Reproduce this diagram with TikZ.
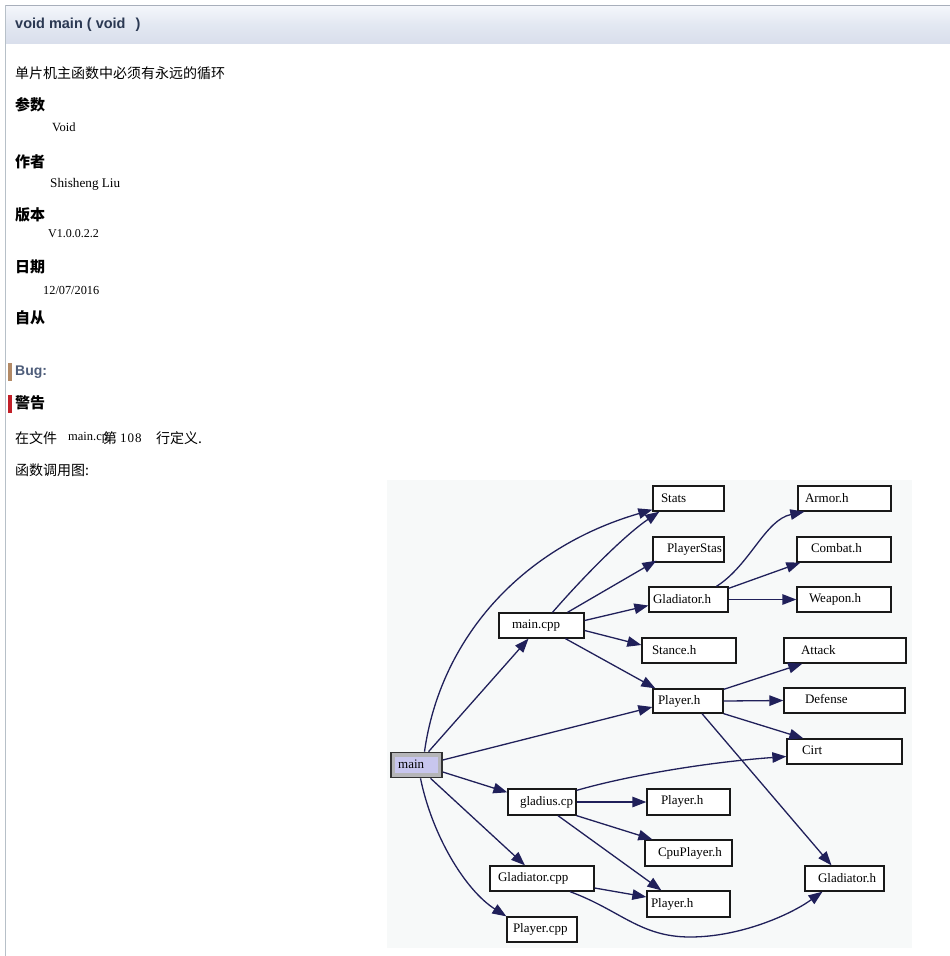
\documentclass[tikz,border=0pt]{standalone}
\usepackage{fontspec}
\setmainfont{Liberation Serif}
\newfontfamily\cjk{Noto Sans CJK SC}
\newfontfamily\titlefont{Liberation Sans}
\usetikzlibrary{arrows.meta,shadows}

\definecolor{edgeblue}{HTML}{20205A}
\definecolor{headtop}{HTML}{F5F7FB}
\definecolor{headmid}{HTML}{E3E8F2}
\definecolor{headbot}{HTML}{D9DFEC}
\definecolor{headline}{HTML}{A8AFBB}
\definecolor{sideline}{HTML}{B7C0C8}
\definecolor{titleblue}{HTML}{2A3852}
\definecolor{bugblue}{HTML}{4E5D7A}
\definecolor{bugtan}{HTML}{B38A66}
\definecolor{warnred}{HTML}{C21F28}
\definecolor{graphbg}{HTML}{F7F9F9}
\definecolor{mainfill}{HTML}{C8C6EE}
\definecolor{mainring}{HTML}{B5B5B8}

\tikzset{
  txt/.style={anchor=west, inner sep=0pt},
  head/.style={txt, font=\cjk\bfseries\fontsize{15}{18}\selectfont},
  body/.style={txt, font=\cjk\fontsize{14}{17}\selectfont},
  val/.style={txt, font=\fontsize{12.5}{15}\selectfont},
  gbox/.style={draw=black!90, line width=1.3pt, fill=white,
    inner xsep=0pt, inner ysep=0pt, align=left,
    font=\fontsize{13}{15}\selectfont,
    drop shadow={shadow xshift=0.6pt, shadow yshift=-0.6pt, fill=black, opacity=0.8}},
  call/.style={draw=edgeblue, line width=1.3pt,
    -{Triangle[length=14pt,width=10.5pt,fill=edgeblue]}},
}
% boxed file node: name, centre, width, height, label indent, label raise, label
\newcommand{\gnode}[7]{%
  \node[gbox, minimum width=#3, minimum height=#4, text width=#3] (#1) at (#2)
    {\hspace*{#5pt}\raisebox{#6pt}{#7}};}

\begin{document}
\begin{tikzpicture}[x=1pt, y=-1pt]
\useasboundingbox (0,0) rectangle (950,956);
\fill[white] (0,0) rectangle (950,956);

% ---- page frame and header band ----
\shade[top color=headtop, bottom color=headbot, middle color=headmid] (5,5) rectangle (950,43);
\draw[headline, line width=1pt] (5,5) -- (950,5);
\draw[sideline, line width=1pt] (5,5) -- (5,956);
\node[txt, text=titleblue, font=\titlefont\bfseries\fontsize{14.5}{17}\selectfont] (title) at (15,25)
  {void main ( void\hspace{10pt})};

% ---- description ----
\node[body] (brief) at (15,73) {单片机主函数中必须有永远的循环};
\node[head] (hparam) at (15,105) {参数};
\node[val] (vparam) at (52,127) {Void};
\node[head] (hauthor) at (15,162) {作者};
\node[val, font=\fontsize{13.2}{15}\selectfont] (vauthor) at (50,184) {Shisheng Liu};
\node[head] (hversion) at (15,215) {版本};
\node[val, font=\fontsize{12}{15}\selectfont] (vversion) at (48,234) {V1.0.0.2.2};
\node[head] (hdate) at (15,267) {日期};
\node[val, font=\fontsize{12.3}{15}\selectfont] (vdate) at (43,290) {12/07/2016};
\node[head] (hsince) at (15,318) {自从};

\fill[bugtan] (8,363) rectangle (12,381);
\node[txt, text=bugblue, font=\titlefont\bfseries\fontsize{14}{17}\selectfont] (bug) at (15,372) {Bug:};
\fill[warnred] (8,395) rectangle (12,413);
\node[head] (warn) at (15,403) {警告};

\node[body] (deffile) at (15,438) {在文件};
\node[val] (deffname) at (68,438) {main.cp};
\node[body] (defdi) at (103,438) {第};
\node[val, font=\fontsize{13}{15}\selectfont] (defline) at (120,438) {1\kern1pt0\kern1pt8};
\node[body] (defrest) at (156,438) {行定义.};
\node[body] (cgraph) at (15,470) {函数调用图:};

% ---- call graph ----
\fill[graphbg] (387,480) rectangle (912,948);

\gnode{stats}{688.5,498.5}{71}{25}{8}{0}{Stats}
\gnode{armor}{844.5,498.5}{93}{25}{7}{2}{Armor.h}
\gnode{pstas}{688.5,549.5}{71}{25}{14}{0}{PlayerStas}
\gnode{combat}{844,549.5}{94}{25}{14}{2.5}{Combat.h}
\gnode{gladh}{688.5,599.5}{79}{25}{4}{0}{Gladiator.h}
\gnode{weapon}{844,599.5}{94}{25}{12}{-1}{Weapon.h}
\gnode{maincpp}{541.5,625.5}{85}{25}{13}{2.5}{main.cpp}
\gnode{stance}{689,650.5}{94}{25}{10}{2}{Stance.h}
\gnode{attack}{845,650.5}{122}{25}{17}{0}{Attack}
\gnode{playerh}{688,701}{70}{24}{5}{0}{Player.h}
\gnode{defense}{844.5,700.5}{121}{25}{21}{2.5}{Defense}
\gnode{cirt}{844.5,751.5}{115}{25}{15}{3.5}{Cirt}
\gnode{gladius}{542,802}{68}{26}{12}{3}{gladius.cp}
\gnode{playerh2}{688.5,802}{83}{26}{14}{4}{Player.h}
\gnode{cpu}{688.5,853}{87}{26}{13}{3}{CpuPlayer.h}
\gnode{gladcpp}{542,878.5}{104}{25}{8}{-3}{Gladiator.cpp}
\gnode{gladh2}{844.5,878.5}{79}{25}{13}{-1.5}{Gladiator.h}
\gnode{playerh3}{688.5,904}{83}{26}{4}{0}{Player.h}
\gnode{playercpp}{542,929.5}{70}{25}{6}{1}{Player.cpp}

% root node: dark frame, grey ring, lavender face
\node[draw=black!80, line width=1.6pt, fill=mainring, minimum width=51, minimum height=25,
  inner sep=0pt] (main) at (416.5,765) {};
\fill[mainfill] ([shift={(5pt,-5pt)}]main.north west) rectangle ([shift={(-5pt,5pt)}]main.south east);
\node[txt, font=\fontsize{13}{15}\selectfont] (mainlabel) at (398,764) {main};

% calls from main
\draw[call] ([xshift=8pt]main.north) .. controls (440,640) and (520,548) .. ([yshift=2pt]stats.south west);
\draw[call] ([xshift=12pt]main.north) -- ([xshift=-13pt]maincpp.south);
\draw[call] ([yshift=5pt]main.east) -- ([yshift=-6pt]playerh.west);
\draw[call] ([yshift=-7pt]main.east) -- ([yshift=-4pt]gladius.north west);
\draw[call] ([xshift=14pt]main.south) -- ([xshift=-17pt]gladcpp.north);
\draw[call] ([xshift=4pt]main.south) .. controls (432,835) and (465,890) .. (playercpp.north west);

% calls from main.cpp
\draw[call] ([xshift=11pt]maincpp.north) .. controls (585,575) and (625,535) .. ([xshift=7pt]stats.south west);
\draw[call] ([xshift=26pt]maincpp.north) -- ([shift={(4pt,2pt)}]pstas.south west);
\draw[call] ([yshift=5pt]maincpp.east) -- ([yshift=-6pt]gladh.west);
\draw[call] ([yshift=-5pt]maincpp.east) -- ([yshift=5.5pt]stance.west);
\draw[call] ([xshift=24pt]maincpp.south) -- ([xshift=3pt]playerh.north west);

% calls from Gladiator.h
\draw[call] ([xshift=28pt]gladh.north) .. controls (750,565) and (765,520) .. ([xshift=7pt]armor.south west);
\draw[call] ([yshift=-2pt]gladh.north east) -- ([xshift=4pt]combat.south west);
\draw[call] (gladh.east) -- (weapon.west);

% calls from Player.h
\draw[call] ([yshift=-1pt]playerh.north east) -- ([xshift=19pt]attack.south west);
\draw[call] (playerh.east) -- (defense.west);
\draw[call] (playerh.south east) -- ([xshift=17pt]cirt.north west);
\draw[call] ([xshift=14pt]playerh.south) -- ([xshift=-13pt]gladh2.north);

% calls from gladius.cp
\draw[call] ([yshift=-2pt]gladius.north east) .. controls (630,775) and (710,762) .. ([yshift=-5pt]cirt.west);
\draw[call] (gladius.east) -- (playerh2.west);
\draw[call] (gladius.south east) -- ([xshift=8pt]cpu.north west);
\draw[call] ([xshift=16pt]gladius.south) -- ([xshift=15pt]playerh3.north west);

% calls from Gladiator.cpp
\draw[call] ([yshift=-9.5pt]gladcpp.east) -- ([yshift=7pt]playerh3.west);
\draw[call] ([xshift=28pt]gladcpp.south) .. controls (620,910) and (640,937) .. (690,937)
  .. controls (740,937) and (790,915) .. ([xshift=-22pt]gladh2.south);
\end{tikzpicture}
\end{document}
